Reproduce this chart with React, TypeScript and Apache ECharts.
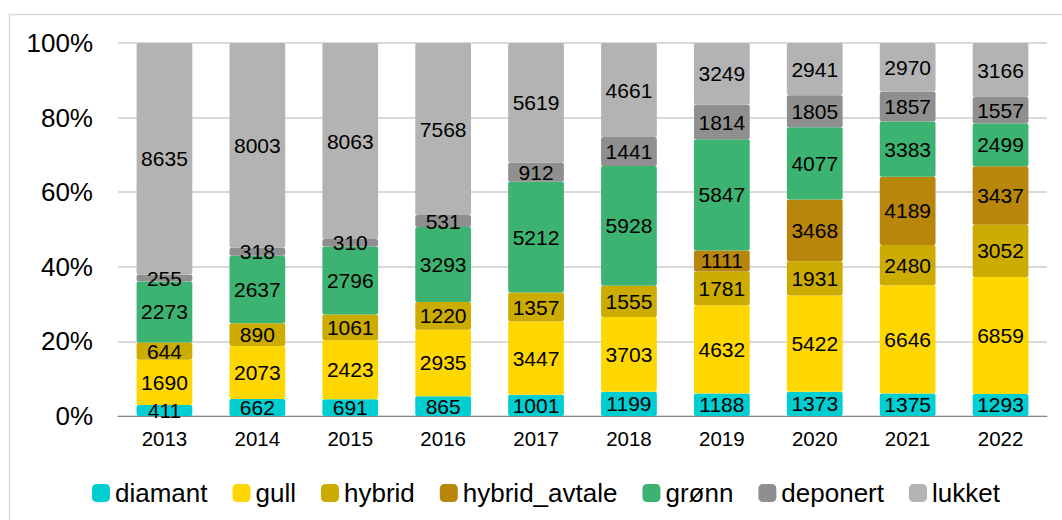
import React, { useEffect, useRef } from "react";
import * as echarts from "echarts";

const years = ["2013", "2014", "2015", "2016", "2017", "2018", "2019", "2020", "2021", "2022"];
const diamant = [411, 662, 691, 865, 1001, 1199, 1188, 1373, 1375, 1293];
const gull = [1690, 2073, 2423, 2935, 3447, 3703, 4632, 5422, 6646, 6859];
const hybrid = [644, 890, 1061, 1220, 1357, 1555, 1781, 1931, 2480, 3052];
const hybridAvtale = [0, 0, 0, 0, 0, 0, 1111, 3468, 4189, 3437];
const gronn = [2273, 2637, 2796, 3293, 5212, 5928, 5847, 4077, 3383, 2499];
const deponert = [255, 318, 310, 531, 912, 1441, 1814, 1805, 1857, 1557];
const lukket = [8635, 8003, 8063, 7568, 5619, 4661, 3249, 2941, 2970, 3166];

const seriesDefs = [
  { name: "diamant", data: diamant, color: "#00CED1" },
  { name: "gull", data: gull, color: "#FFD700" },
  { name: "hybrid", data: hybrid, color: "#CCAC00" },
  { name: "hybrid_avtale", data: hybridAvtale, color: "#B8860B" },
  { name: "grønn", data: gronn, color: "#3CB371" },
  { name: "deponert", data: deponert, color: "#8F8F8F" },
  { name: "lukket", data: lukket, color: "#B3B3B3" },
];

const FONT = "'Liberation Sans', Arial, sans-serif";

export default function App() {
  const ref = useRef<HTMLDivElement>(null);
  useEffect(() => {
    document.body.style.margin = "0";
    if (!ref.current) return;
    const chart = echarts.init(ref.current, undefined, { renderer: "svg" });
    const totals = years.map((_, i) => seriesDefs.reduce((s, d) => s + d.data[i], 0));
    chart.setOption({
      animation: false,
      textStyle: { fontFamily: FONT },
      graphic: [
        {
          type: "rect",
          shape: { x: 9.5, y: 14.5, width: 1100, height: 600 },
          style: { fill: "none", stroke: "#d9d9d9", lineWidth: 1.5 },
          silent: true,
          z: -10,
        },
      ],
      grid: { left: 118, right: 15, top: 43, bottom: 104 },
      legend: {
        left: 87,
        top: 475,
        itemWidth: 18,
        itemHeight: 18,
        itemGap: 25,
        icon: "roundRect",
        textStyle: { fontSize: 26, color: "#000", fontFamily: FONT },
        data: seriesDefs.map((d) => d.name),
      },
      xAxis: {
        type: "category",
        data: years,
        axisTick: { show: false },
        axisLine: { lineStyle: { color: "#888888", width: 1 } },
        axisLabel: { fontSize: 20.5, color: "#000", margin: 12, fontFamily: FONT },
      },
      yAxis: {
        type: "value",
        min: 0,
        max: 100,
        interval: 20,
        axisLabel: { formatter: "{value}%", fontSize: 26, color: "#000", margin: 25, fontFamily: FONT },
        splitLine: { lineStyle: { color: "#d9d9d9", width: 2 } },
        axisLine: { show: false },
        axisTick: { show: false },
      },
      series: seriesDefs.map((d) => ({
        name: d.name,
        type: "bar",
        stack: "total",
        barWidth: "60%",
        itemStyle: { color: d.color, borderRadius: 2 },
        data: d.data.map((v, i) => ({ value: (v / totals[i]) * 100, raw: v })),
        label: {
          show: true,
          position: "inside",
          fontSize: 21,
          color: "#000",
          fontFamily: FONT,
          formatter: (p: any) => (p.data.raw ? String(p.data.raw) : ""),
        },
      })),
    });
    return () => chart.dispose();
  }, []);
  return <div ref={ref} style={{ width: 1062, height: 520 }} />;
}
